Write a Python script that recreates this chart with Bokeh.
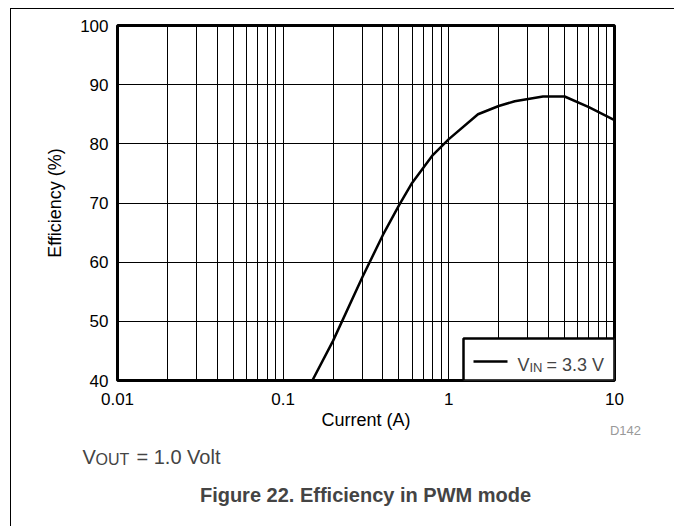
from bokeh.plotting import figure
from bokeh.layouts import column
from bokeh.models import Range1d, FixedTicker, Label, BoxAnnotation, Arrow
from bokeh.embed import file_html
from bokeh.resources import INLINE

# ---- data ----
current = [0.15, 0.2, 0.3, 0.4, 0.5, 0.6, 0.8, 1.0, 1.5, 2.0, 2.5, 3.7, 5.0, 7.0, 10.0]
efficiency = [40.0, 46.7, 57.4, 64.6, 69.6, 73.4, 78.1, 80.8, 85.0, 86.4, 87.2, 88.0, 88.0, 86.2, 84.0]
x_major = [0.01, 0.1, 1, 10]
x_tick_labels = ["0.01", "0.1", "1", "10"]
x_minor = [m * d for d in [0.01, 0.1, 1] for m in range(2, 10)]
y_ticks = [40, 50, 60, 70, 80, 90, 100]

FONT = "Liberation Sans"

p = figure(width=664, height=431, x_axis_type="log",
           x_range=Range1d(0.01, 10), y_range=Range1d(40, 100),
           output_backend="svg", toolbar_location=None,
           min_border_left=106, min_border_top=16, min_border_right=61, min_border_bottom=60,
           styles={"border-top": "1px solid black", "border-left": "1px solid black",
                   "margin-left": "10px", "margin-top": "8px"})
p.frame_align = False

p.outline_line_color = "black"
p.outline_line_width = 3
p.background_fill_color = "white"
p.border_fill_color = "white"

# axes
p.xaxis.ticker = FixedTicker(ticks=x_major, minor_ticks=x_minor)
p.xaxis.major_label_overrides = {v: s for v, s in zip(x_major, x_tick_labels)}
p.yaxis.ticker = FixedTicker(ticks=y_ticks)
for ax in (p.xaxis, p.yaxis):
    ax.axis_line_color = None
    ax.major_tick_line_color = None
    ax.minor_tick_line_color = None
    ax.major_tick_out = 0
    ax.major_tick_in = 0
    ax.minor_tick_out = 0
    ax.minor_tick_in = 0
    ax.major_label_text_font = FONT
    ax.major_label_text_font_size = "17px"
    ax.major_label_text_color = "black"
    ax.axis_label_text_font = FONT
    ax.axis_label_text_font_size = "18px"
    ax.axis_label_text_font_style = "normal"
    ax.axis_label_text_color = "black"

p.xaxis.axis_label = "Current (A)"
p.yaxis.axis_label = "Efficiency (%)"
p.xaxis.major_label_standoff = 12
p.xaxis.axis_label_standoff = 2
p.yaxis.major_label_standoff = 9
p.yaxis.axis_label_standoff = 12

# grid
p.xgrid.ticker = p.xaxis.ticker
p.xgrid.grid_line_color = "black"
p.xgrid.grid_line_width = 1
p.xgrid.minor_grid_line_color = "black"
p.xgrid.minor_grid_line_width = 1
p.ygrid.ticker = p.yaxis.ticker
p.ygrid.grid_line_color = "black"
p.ygrid.grid_line_width = 1

# curve
p.line(current, efficiency, line_color="black", line_width=2.5)

# custom legend (frame-relative screen units)
p.add_layout(BoxAnnotation(left=346, right=497, bottom=0, top=42,
                           left_units="screen", right_units="screen",
                           bottom_units="screen", top_units="screen",
                           fill_color="white", fill_alpha=1.0,
                           line_color="black", line_width=2.5, line_alpha=1.0))
p.add_layout(Arrow(end=None, start=None, x_start=356, y_start=19, x_end=390, y_end=19,
                   start_units="screen", end_units="screen",
                   line_color="black", line_width=2.5))


def lab(fig, text, x, y, size, **kw):
    fig.add_layout(Label(x=x, y=y, x_units="screen", y_units="screen", text=text,
                         text_font=FONT, text_font_size=size,
                         text_baseline="alphabetic", **kw))


lab(p, "V", 400, 16, "18px")
lab(p, "IN", 412, 13, "13px")
lab(p, "= 3.3 V", 429, 16, "18px")

# ---- overlay figure for the texts below the chart ----
p2 = figure(width=664, height=117, x_range=Range1d(0, 1), y_range=Range1d(0, 1),
            output_backend="svg", toolbar_location=None,
            x_axis_location=None, y_axis_location=None,
            min_border=0, min_border_left=0, min_border_right=0,
            min_border_top=0, min_border_bottom=0,
            styles={"border-left": "1px solid black", "margin-left": "10px",
                    "margin-top": "-30px"})
p2.frame_align = False
p2.grid.visible = False
p2.outline_line_color = None
p2.background_fill_color = None
p2.border_fill_color = None

lab(p2, "D142", 614, 96, "13px", text_color="#999999", text_align="center")
lab(p2, "V", 71, 70, "20px")
lab(p2, "OUT", 84, 67, "16px")
lab(p2, "= 1.0 Volt", 125, 70, "20px")
lab(p2, "Figure 22. Efficiency in PWM mode", 354, 32, "20px", text_align="center",
    text_font_style="bold")

layout = column(p, p2, spacing=0)
open("out.html", "w").write(file_html(layout, INLINE))
